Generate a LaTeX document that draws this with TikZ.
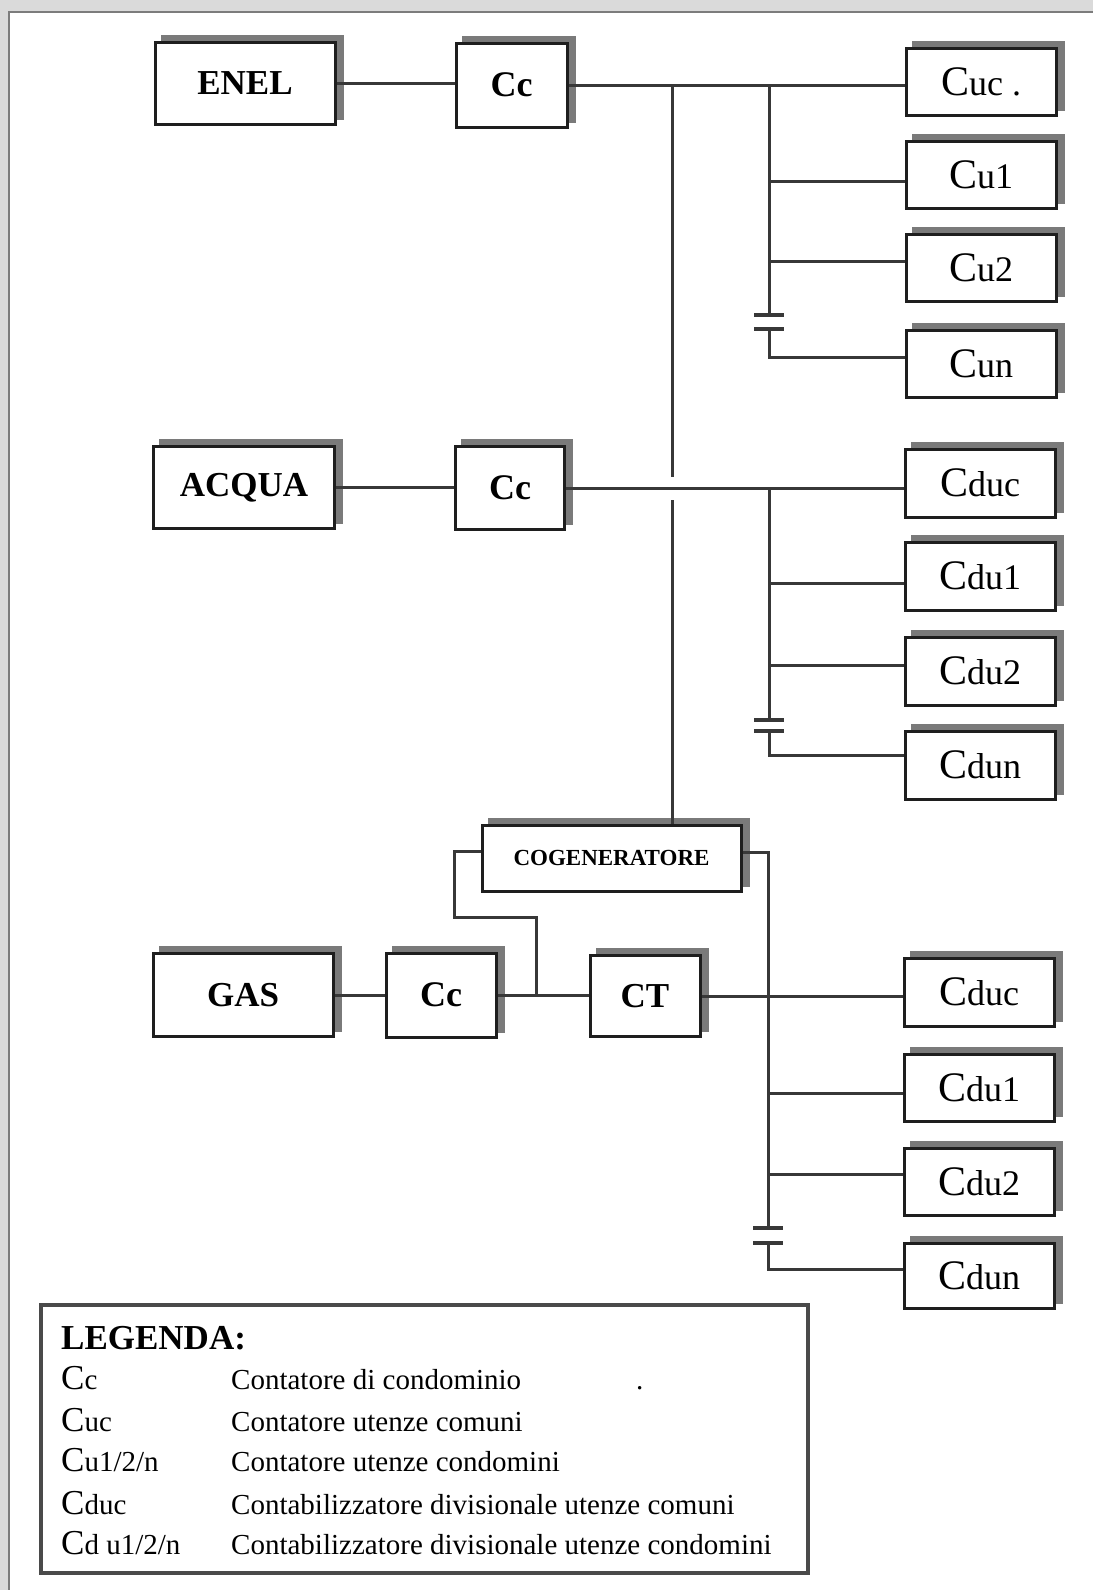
\documentclass[tikz,border=0pt]{standalone}
\usepackage{fontspec}
\setmainfont{Liberation Serif}
\usetikzlibrary{backgrounds}
\definecolor{edgecol}{HTML}{1E1E1E}
\definecolor{wirecol}{HTML}{383838}
\definecolor{shadecol}{HTML}{7A7A7A}
\definecolor{framecol}{HTML}{DADADA}
\definecolor{framelinecol}{HTML}{7C7C7C}
\definecolor{legcol}{HTML}{4A4A4A}
\tikzset{
  box/.style={draw=edgecol, line width=3pt, fill=white, inner sep=0pt, align=center},
  bigbox/.style={box, minimum width=180pt, minimum height=82pt, font=\fontsize{35}{40}\selectfont\bfseries},
  ccbox/.style={box, minimum width=110pt, minimum height=83pt, font=\fontsize{36}{40}\selectfont\bfseries},
  ubox/.style={box, minimum width=150pt, minimum height=67pt, font=\fontsize{36}{40}\selectfont},
  wire/.style={draw=wirecol, line width=3pt},
  barline/.style={draw=wirecol, line width=3.4pt},
  lgd/.style={anchor=base west, inner sep=0pt, font=\fontsize{29}{32}\selectfont},
}
\newcommand\BigC{{\fontsize{42}{44}\selectfont C}}
\newcommand\LegC{{\fontsize{35}{38}\selectfont C}}
\newcommand\shd[1]{\fill[shadecol] ([shift={(7,-6)}]#1.south west) rectangle ([shift={(7,-6)}]#1.north east);}
\begin{document}
\begin{tikzpicture}[x=1pt,y=-1pt]
\useasboundingbox (0,0) rectangle (1093,1590);
\begin{scope}[on background layer]
  \fill[framecol] (0,0) rectangle (1093,1590);
  \fill[white] (9,12) rectangle (1093,1590);
  \draw[framelinecol, line width=2.5pt] (9,1590) -- (9,12) -- (1093,12);
\end{scope}

% ---------- ENEL row ----------
\node[bigbox] (enel) at (245,83) {ENEL};
\node[ccbox, minimum width=111pt, minimum height=84pt] (cc1) at (511.5,85) {Cc};
\node[ubox] (cuc) at (981,81.5) {\BigC uc .};
\node[ubox] (cu1) at (981,174.5) {\BigC u1};
\node[ubox] (cu2) at (981,268) {\BigC u2};
\node[ubox] (cun) at (981,363.5) {\BigC un};

% ---------- ACQUA row ----------
\node[bigbox, minimum width=181pt] (acqua) at (244,487.5) {ACQUA};
\node[ccbox, minimum width=109pt] (cc2) at (510,488) {Cc};
\node[ubox, minimum height=68pt] (cduc1) at (980,483) {\BigC duc};
\node[ubox, minimum height=68pt] (cdu1a) at (980,576) {\BigC du1};
\node[ubox, minimum height=68pt] (cdu2a) at (980,671) {\BigC du2};
\node[ubox, minimum height=68pt] (cduna) at (980,765) {\BigC dun};

% ---------- COGENERATORE ----------
\node[box, minimum width=259pt, minimum height=66pt, font=\fontsize{23}{26}\selectfont\bfseries] (cogen) at (611.5,858) {COGENERATORE};

% ---------- GAS row ----------
\node[bigbox, minimum height=83pt] (gas) at (243,995) {GAS};
\node[ccbox, minimum height=84pt] (cc3) at (441,995) {Cc};
\node[ccbox, minimum height=81pt, font=\fontsize{35}{40}\selectfont\bfseries] (ct) at (645,996) {CT};
\node[ubox, minimum height=68pt] (cduc2) at (979,992) {\BigC duc};
\node[ubox] (cdu1b) at (979,1087.5) {\BigC du1};
\node[ubox] (cdu2b) at (979,1182) {\BigC du2};
\node[ubox, minimum height=65pt] (cdunb) at (979,1276) {\BigC dun};

% ---------- shadows ----------
\begin{scope}[on background layer]
  \shd{enel}\shd{cc1}\shd{cuc}\shd{cu1}\shd{cu2}\shd{cun}
  \shd{acqua}\shd{cc2}\shd{cduc1}\shd{cdu1a}\shd{cdu2a}\shd{cduna}
  \shd{cogen}
  \shd{gas}\shd{cc3}\shd{ct}\shd{cduc2}\shd{cdu1b}\shd{cdu2b}\shd{cdunb}
\end{scope}

% ---------- coordinates ----------
\coordinate (t0) at (672,85);
\coordinate (t1) at (769,85);
\coordinate (gA) at (672,477);
\coordinate (gB) at (672,500);
\coordinate (u1) at (769,181);
\coordinate (u2) at (769,261);
\coordinate (bk1) at (769,315);
\coordinate (bk2) at (769,329);
\coordinate (un) at (769,357);

\coordinate (a1) at (769,488);
\coordinate (a2) at (769,583);
\coordinate (a3) at (769,665);
\coordinate (ak1) at (769,720);
\coordinate (ak2) at (769,731);
\coordinate (an) at (769,755);

\coordinate (cw) at ([yshift=7pt]cogen.west);
\coordinate (ce) at ([yshift=6pt]cogen.east);
\coordinate (g1) at (536,995);
\coordinate (g2) at (536,917);
\coordinate (g3) at (454,917);
\coordinate (gv) at (768,852);
\coordinate (gb1) at (768,1093);
\coordinate (gb2) at (768,1174);
\coordinate (gk1) at (768,1228);
\coordinate (gk2) at (768,1243);
\coordinate (gn) at (768,1269);

% ---------- ENEL wiring ----------
\draw[wire] (enel.east) -- (enel.east -| cc1.west);
\draw[wire] (cc1.east) -- (cc1.east -| cuc.west);
\draw[wire] (t0) -- (gA);
\draw[wire] (gB) -- (t0 |- cogen.north);
\draw[wire] (t1) -- (bk1);
\draw[wire] (u1) -- (u1 -| cu1.west);
\draw[wire] (u2) -- (u2 -| cu2.west);
\draw[barline] ([xshift=-15pt]bk1) -- ([xshift=15pt]bk1);
\draw[barline] ([xshift=-15pt]bk2) -- ([xshift=15pt]bk2);
\draw[wire] (bk2) -- (un) -- (un -| cun.west);

% ---------- ACQUA wiring ----------
\draw[wire] (acqua.east) -- (acqua.east -| cc2.west);
\draw[wire] (cc2.east) -- (cc2.east -| cduc1.west);
\draw[wire] (a1) -- (ak1);
\draw[wire] (a2) -- (a2 -| cdu1a.west);
\draw[wire] (a3) -- (a3 -| cdu2a.west);
\draw[barline] ([xshift=-15pt]ak1) -- ([xshift=15pt]ak1);
\draw[barline] ([xshift=-15pt]ak2) -- ([xshift=15pt]ak2);
\draw[wire] (ak2) -- (an) -- (an -| cduna.west);

% ---------- GAS wiring ----------
\draw[wire] (gas.east) -- (gas.east -| cc3.west);
\draw[wire] (cc3.east) -- (cc3.east -| ct.west);
\draw[wire] (g1) -- (g2) -- (g3) -- (g3 |- cw) -- (cw);
\draw[wire] (ce) -- (gv) -- (gk1);
\draw[wire] (ct.east) -- (ct.east -| cduc2.west);
\draw[wire] (gb1) -- (gb1 -| cdu1b.west);
\draw[wire] (gb2) -- (gb2 -| cdu2b.west);
\draw[barline] ([xshift=-15pt]gk1) -- ([xshift=15pt]gk1);
\draw[barline] ([xshift=-15pt]gk2) -- ([xshift=15pt]gk2);
\draw[wire] (gk2) -- (gn) -- (gn -| cdunb.west);

% ---------- Legend ----------
\node[draw=legcol, line width=3.4pt, fill=none, minimum width=767pt, minimum height=268pt, inner sep=0pt] (leg) at (424.5,1439) {};
\node[lgd, font=\fontsize{35}{38}\selectfont\bfseries] (l0) at (61,1349) {LEGENDA:};
\node[lgd] (l1) at (61,1389) {\LegC c};
\node[lgd] (l2) at (61,1431) {\LegC uc};
\node[lgd] (l3) at (61,1471) {\LegC u1/2/n};
\node[lgd] (l4) at (61,1514) {\LegC duc};
\node[lgd] (l5) at (61,1554) {\LegC d u1/2/n};
\node[lgd] (d1) at (231,1389) {Contatore di condominio};
\node[lgd] (dot) at (636,1389) {.};
\node[lgd] (d2) at (231,1431) {Contatore utenze comuni};
\node[lgd] (d3) at (231,1471) {Contatore utenze condomini};
\node[lgd] (d4) at (231,1514) {Contabilizzatore divisionale utenze comuni};
\node[lgd] (d5) at (231,1554) {Contabilizzatore divisionale utenze condomini};
\end{tikzpicture}
\end{document}
